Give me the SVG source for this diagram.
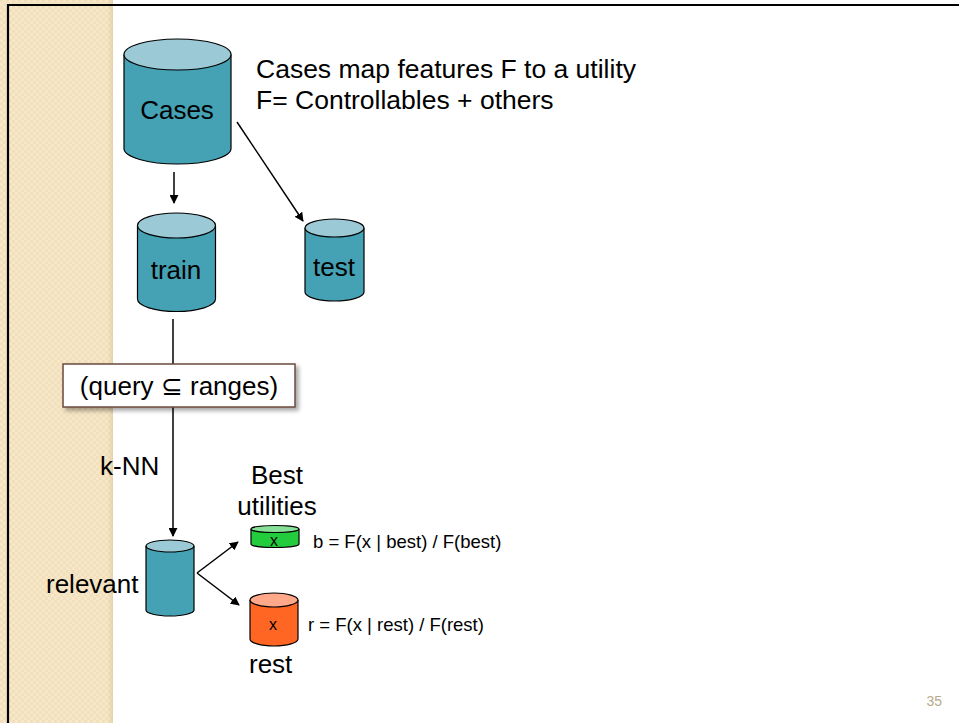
<svg xmlns="http://www.w3.org/2000/svg" width="959" height="723" viewBox="0 0 959 723">
<defs>
<pattern id="chk" width="6" height="6" patternUnits="userSpaceOnUse">
<rect width="6" height="6" fill="#F6E7C9"/>
<rect width="3" height="3" fill="#F2DFBB"/>
<rect x="3" y="3" width="3" height="3" fill="#F2DFBB"/>
</pattern>
<linearGradient id="edge" x1="0" x2="1" y1="0" y2="0">
<stop offset="0" stop-color="#E8D4AE" stop-opacity="0"/>
<stop offset="1" stop-color="#D9C39A" stop-opacity="0.6"/>
</linearGradient>
<marker id="ah" viewBox="0 0 10 10" refX="9" refY="5" markerWidth="9" markerHeight="9" markerUnits="userSpaceOnUse" orient="auto">
<path d="M0,0 L10,5 L0,10 z" fill="#000"/>
</marker>
<filter id="sh" x="-10%" y="-20%" width="130%" height="160%">
<feDropShadow dx="3" dy="3" stdDeviation="2" flood-color="#000" flood-opacity="0.35"/>
</filter>
</defs>
<style>
text{font-family:"Liberation Sans",Arial,sans-serif;fill:#000}
.big{font-size:26px}
.cap{font-size:26.5px}
.sm{font-size:18.5px}
.x{font-size:16px}
.body{fill:#45A1B4;stroke:#000;stroke-width:1.2}
.top{fill:#9BC9D5;stroke:#000;stroke-width:1.2}
.conn{stroke:#000;stroke-width:1.5;fill:none}
</style>
<rect width="959" height="723" fill="#fff"/>
<rect x="0" y="0" width="113" height="723" fill="url(#chk)"/>
<rect x="107" y="0" width="6" height="723" fill="url(#edge)"/>
<path d="M8,723 V5 H959" fill="none" stroke="#000" stroke-width="2.2"/>

<g id="connectors">
<line class="conn" x1="174" y1="172" x2="174" y2="203" marker-end="url(#ah)"/>
<line class="conn" x1="237" y1="122" x2="303" y2="221" marker-end="url(#ah)"/>
<line class="conn" x1="173" y1="319" x2="173" y2="365"/>
<line class="conn" x1="173" y1="407" x2="173" y2="536" marker-end="url(#ah)"/>
<line class="conn" x1="197" y1="573" x2="238" y2="542" marker-end="url(#ah)"/>
<line class="conn" x1="197" y1="573" x2="239" y2="605" marker-end="url(#ah)"/>
</g>

<g id="cases">
<path class="body" d="M124,54.5 V148.5 A53.5,15.5 0 0 0 231,148.5 V54.5"/>
<ellipse class="top" cx="177.5" cy="54.5" rx="53.5" ry="15.5"/>
<text class="big" x="177" y="119" text-anchor="middle">Cases</text>
</g>
<g id="caption">
<text class="cap" x="256" y="78">Cases map features F to a utility</text>
<text class="cap" x="256" y="109">F= Controllables + others</text>
</g>

<g id="train">
<path class="body" d="M137.5,225.5 V299 A39,12.5 0 0 0 215.5,299 V225.5"/>
<ellipse class="top" cx="176.5" cy="225.5" rx="39" ry="12.5"/>
<text class="big" x="176" y="279" text-anchor="middle">train</text>
</g>

<g id="test">
<path class="body" d="M305,228 V292 A29.5,9 0 0 0 364,292 V228"/>
<ellipse class="top" cx="334.5" cy="228" rx="29.5" ry="9"/>
<text class="big" x="334" y="276" text-anchor="middle">test</text>
</g>

<g id="query">
<rect x="63" y="364" width="232" height="43" fill="#fff" stroke="#6B4A3E" stroke-width="1.5" filter="url(#sh)"/>
<text class="big" x="179" y="395" text-anchor="middle">(query ⊆ ranges)</text>
</g>

<g id="knn-label">
<text class="big" x="100" y="475">k-NN</text>
</g>

<g id="relevant">
<path class="body" d="M146,546 V610 A24,6 0 0 0 194,610 V546"/>
<ellipse class="top" cx="170" cy="546" rx="24" ry="6"/>
<text class="big" x="46" y="593">relevant</text>
</g>

<g id="best">
<text class="big" x="277" y="484" text-anchor="middle">Best</text>
<text class="big" x="277" y="515" text-anchor="middle">utilities</text>
<path d="M251,529 V544 A24,3.5 0 0 0 299,544 V529" fill="#22CC3C" stroke="#000" stroke-width="1.2"/>
<ellipse cx="275" cy="529" rx="24" ry="3.5" fill="#88E098" stroke="#000" stroke-width="1.2"/>
<text class="x" x="274" y="546" text-anchor="middle">x</text>
<text class="sm" x="313" y="548">b = F(x | best) / F(best)</text>
</g>

<g id="rest">
<path d="M250,600 V639 A24,7 0 0 0 298,639 V600" fill="#FF6624" stroke="#000" stroke-width="1.2"/>
<ellipse cx="274" cy="600" rx="24" ry="7" fill="#FFA88A" stroke="#000" stroke-width="1.2"/>
<text class="x" x="273" y="630" text-anchor="middle">x</text>
<text class="sm" x="308" y="631">r = F(x | rest) / F(rest)</text>
<text class="big" x="249" y="673">rest</text>
</g>

<text x="942" y="706" font-size="14" text-anchor="end" style="fill:#B8AA8A">35</text>
</svg>
